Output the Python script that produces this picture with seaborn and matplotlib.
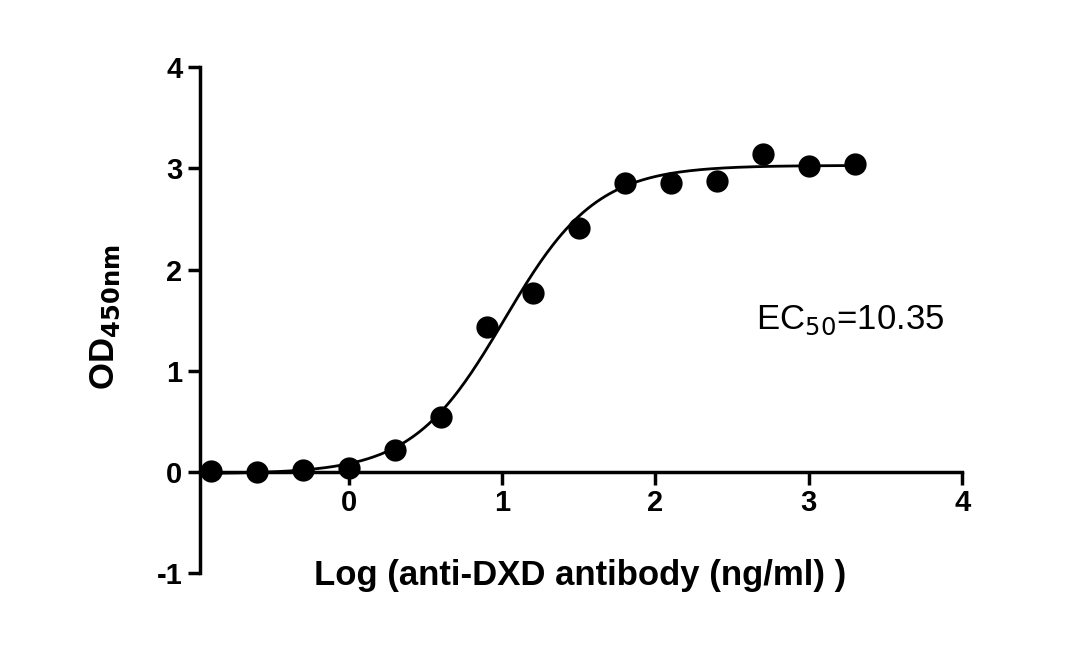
import numpy as np
import matplotlib
matplotlib.use("Agg")
import matplotlib.pyplot as plt
import seaborn as sns

log_conc = [-0.9, -0.6, -0.3, 0.0, 0.3, 0.6, 0.9, 1.2, 1.5, 1.8, 2.1, 2.4, 2.7, 3.0, 3.3]
od450 = [0.01, 0.0, 0.02, 0.04, 0.22, 0.54, 1.43, 1.77, 2.41, 2.86, 2.86, 2.88, 3.14, 3.02, 3.04]

# 4PL fit parameters (EC50 = 10.35 ng/ml)
bottom, top, log_ec50, hill = -0.02, 3.03, np.log10(10.35), 1.45

sns.set_theme(style="white")
plt.rcParams['font.family'] = ['Liberation Sans', 'DejaVu Sans']
plt.rcParams['axes.unicode_minus'] = False
plt.rcParams['text.color'] = "black"

fig = plt.figure(figsize=(10.8, 6.6), dpi=100)
ax = fig.add_axes([0.185, 0.132, 0.706, 0.766])

xfit = np.linspace(-0.9, 3.3, 300)
yfit = bottom + (top - bottom) / (1 + 10 ** ((log_ec50 - xfit) * hill))
sns.lineplot(x=xfit, y=yfit, ax=ax, color="black", linewidth=2)
sns.scatterplot(x=log_conc, y=od450, ax=ax, color="black", s=220, edgecolor="black", zorder=3)

ax.set_xlim(-0.97, 4)
ax.set_ylim(-1, 4)
ax.spines['top'].set_visible(False)
ax.spines['right'].set_visible(False)
ax.spines['bottom'].set_position(('data', 0))
for s in ('left', 'bottom'):
    ax.spines[s].set_linewidth(2.5)
    ax.spines[s].set_color("black")
ax.set_xticks([0, 1, 2, 3, 4])
ax.set_yticks([-1, 0, 1, 2, 3, 4])
ax.tick_params(axis='both', direction='out', length=9, width=2.5, labelsize=21,
               bottom=True, left=True, colors="black", labelcolor="black")
for lab in ax.get_xticklabels() + ax.get_yticklabels():
    lab.set_fontweight("bold")

fig.text(0.537, 0.128, "Log (anti-DXD antibody (ng/ml) )", ha="center", va="center",
         fontsize=25, fontweight="bold", color="black")
fig.text(0.098, 0.52, "OD$_{\\mathbf{450nm}}$", rotation=90, ha="center", va="center",
         fontsize=25, fontweight="bold", color="black")
ax.text(3.27, 1.5, "EC$_{50}$=10.35", ha="center", va="center", fontsize=25, color="black")

fig.savefig("out.png", dpi=100, facecolor="white")
